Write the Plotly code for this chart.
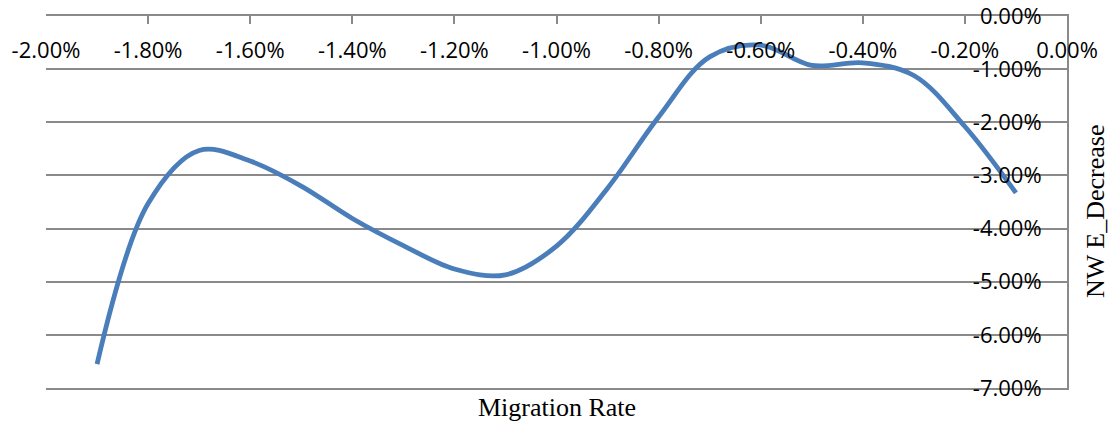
import plotly.graph_objects as go

# Migration rate (%) and the resulting NW E decrease (%)
migration_rate = [-1.9, -1.8, -1.7, -1.6, -1.5, -1.4, -1.3, -1.2, -1.1, -1.0,
                  -0.9, -0.8, -0.7, -0.6, -0.5, -0.4, -0.3, -0.2, -0.1]
nw_e_decrease = [-6.55, -3.53, -2.53, -2.73, -3.20, -3.81, -4.32, -4.76, -4.87, -4.33,
                 -3.24, -1.90, -0.77, -0.55, -0.93, -0.88, -1.12, -2.08, -3.33]

x_ticks = [-2.0, -1.8, -1.6, -1.4, -1.2, -1.0, -0.8, -0.6, -0.4, -0.2, 0.0]
y_ticks = [0, -1, -2, -3, -4, -5, -6, -7]

LINE_BLUE = "#4a7ebb"
GRID = "#8a8a8a"
TICK_FONT = dict(family="Open Sans", size=22, color="#000000")
TITLE_FONT = dict(family="Liberation Serif", size=26, color="#000000")

fig = go.Figure()
fig.add_trace(go.Scatter(
    x=migration_rate,
    y=nw_e_decrease,
    mode="lines",
    line=dict(color=LINE_BLUE, width=4.8, shape="spline", smoothing=1.0),
    showlegend=False,
))

fig.update_layout(
    width=1109,
    height=425,
    margin=dict(l=46, r=42, t=16, b=37, autoexpand=False),
    paper_bgcolor="white",
    plot_bgcolor="white",
    xaxis=dict(
        range=[-2.0, 0.0],
        side="top",
        automargin=False,
        tickvals=x_ticks,
        ticktext=[f"{v:.2f}%" for v in x_ticks],
        ticks="inside",
        ticklen=8,
        tickcolor=GRID,
        tickwidth=1.5,
        ticklabelposition="inside",
        ticklabelstandoff=20,
        ticklabeloverflow="allow",
        showline=True,
        mirror=True,
        linecolor=GRID,
        linewidth=1.5,
        showgrid=False,
        zeroline=False,
        tickfont=TICK_FONT,
    ),
    yaxis=dict(
        range=[-7.0, 0.0],
        side="right",
        automargin=False,
        tickvals=y_ticks,
        ticktext=[f"{v:.2f}%" for v in y_ticks],
        ticks="",
        ticklabelposition="inside",
        ticklabelstandoff=27,
        ticklabeloverflow="allow",
        showline=True,
        linecolor=GRID,
        linewidth=1.5,
        showgrid=True,
        gridcolor=GRID,
        gridwidth=1.5,
        zeroline=False,
        tickfont=TICK_FONT,
    ),
    annotations=[
        dict(text="Migration Rate", xref="paper", yref="paper", x=0.5, y=0,
             xanchor="center", yanchor="middle", yshift=-19, showarrow=False,
             font=TITLE_FONT),
        dict(text="NW E_Decrease", xref="paper", yref="paper", x=1, y=0.5,
             xanchor="center", yanchor="middle", xshift=28, yshift=-10,
             textangle=-90, showarrow=False, font=TITLE_FONT),
    ],
)

fig.write_html("out.html")
